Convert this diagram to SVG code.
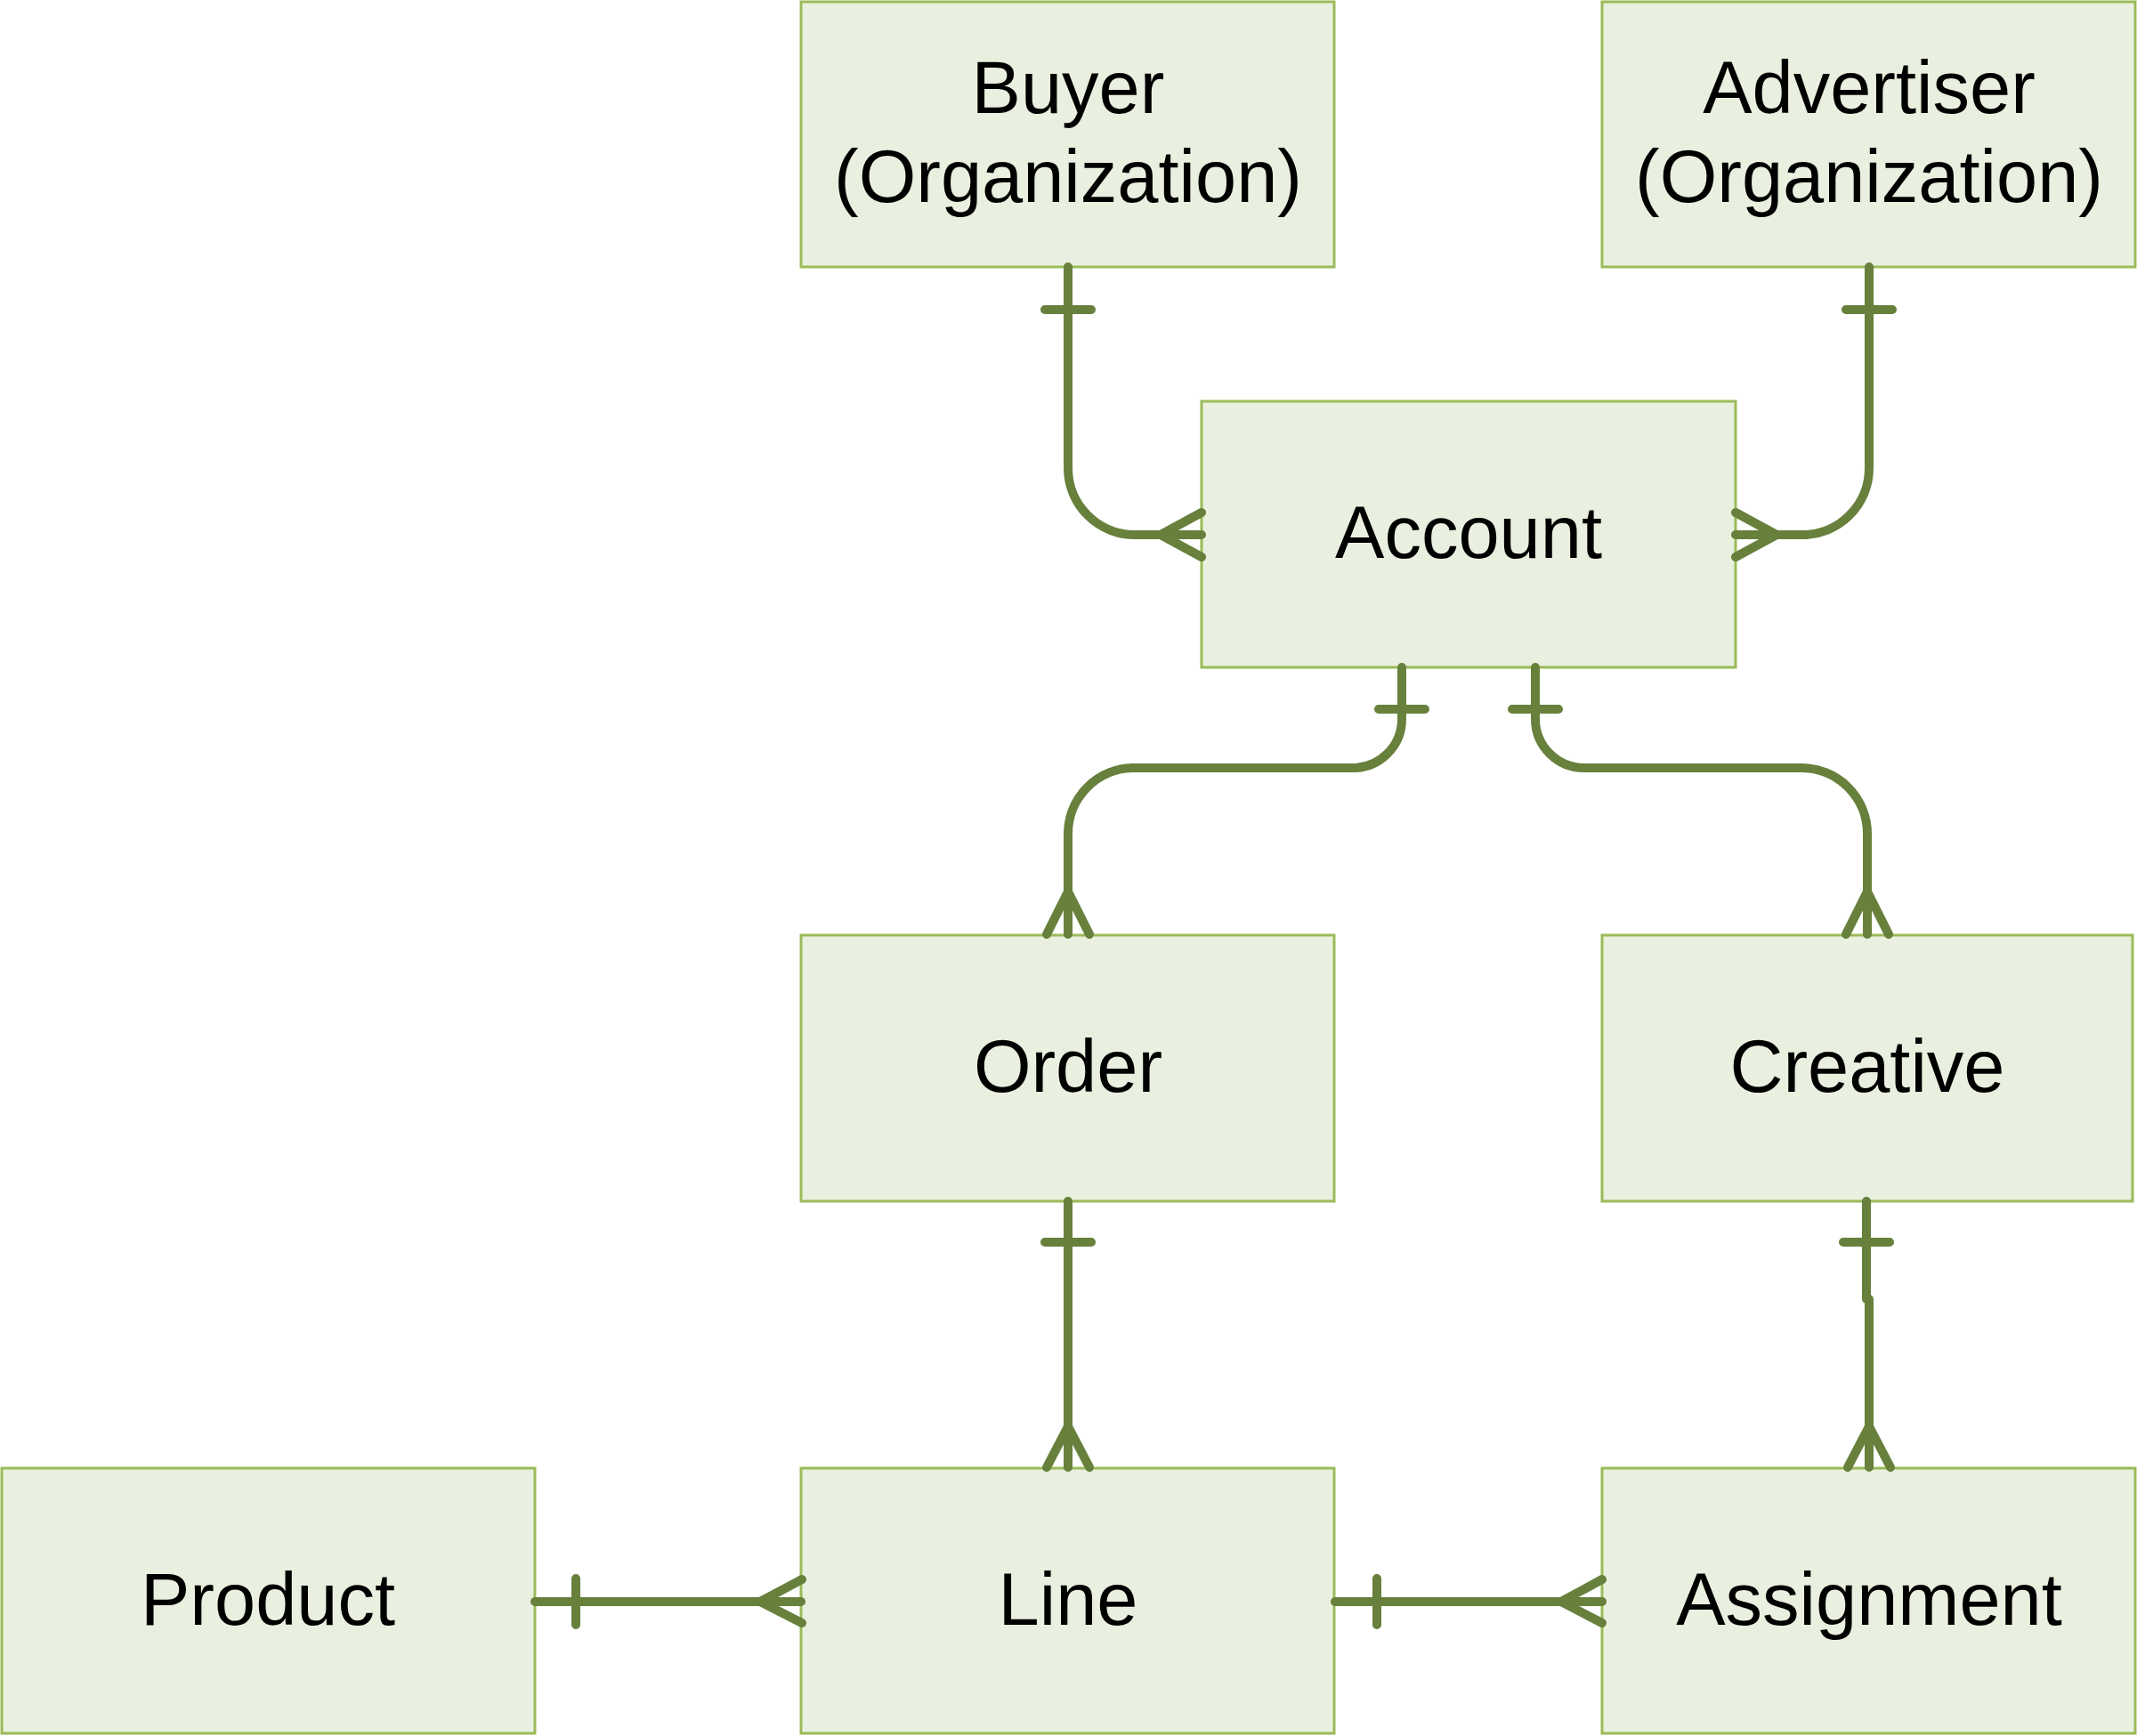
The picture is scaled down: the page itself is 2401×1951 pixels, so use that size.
<svg xmlns="http://www.w3.org/2000/svg" width="2401" height="1951" viewBox="0 0 2401 1951">
<style>
.box{fill:#E9F0DF;stroke:#9BBB59;stroke-width:3}
.lbl{font-family:"Liberation Sans",Arial,sans-serif;font-size:83px;fill:#000;text-anchor:middle}
.con{fill:none;stroke:#67803C;stroke-width:10;stroke-linecap:round;stroke-linejoin:round}
</style>
<rect x="0" y="0" width="2401" height="1951" fill="#fff"/>
<g id="buyer"><rect class="box" x="900" y="2" width="599" height="298"/><text class="lbl" x="1200" y="127">Buyer</text><text class="lbl" x="1200" y="227">(Organization)</text></g>
<g id="advertiser"><rect class="box" x="1800" y="2" width="599" height="298"/><text class="lbl" x="2100" y="127">Advertiser</text><text class="lbl" x="2100" y="227">(Organization)</text></g>
<g id="account"><rect class="box" x="1350" y="451" width="600" height="299"/><text class="lbl" x="1650" y="627">Account</text></g>
<g id="order"><rect class="box" x="900" y="1051" width="599" height="299"/><text class="lbl" x="1200" y="1227">Order</text></g>
<g id="creative"><rect class="box" x="1800" y="1051" width="596" height="299"/><text class="lbl" x="2098" y="1227">Creative</text></g>
<g id="product"><rect class="box" x="2" y="1650" width="599" height="298"/><text class="lbl" x="301" y="1826">Product</text></g>
<g id="line"><rect class="box" x="900" y="1650" width="599" height="298"/><text class="lbl" x="1200" y="1826">Line</text></g>
<g id="assignment"><rect class="box" x="1800" y="1650" width="599" height="298"/><text class="lbl" x="2100" y="1826">Assignment</text></g>
<g id="connectors">
<path class="con" d="M1200 300 V526 A75 75 0 0 0 1275 601 H1350 M1174 348 H1226 M1350 576 L1304 601 L1350 626"/>
<path class="con" d="M2100 300 V526 A75 75 0 0 1 2025 601 H1950 M2074 348 H2126 M1950 576 L1996 601 L1950 626"/>
<path class="con" d="M1575 750 V808 A55 55 0 0 1 1520 863 H1274 A74 74 0 0 0 1200 937 V1050 M1549 797 H1601 M1176 1050 L1200 1002 L1224 1050"/>
<path class="con" d="M1725 750 V808 A55 55 0 0 0 1780 863 H2024 A74 74 0 0 1 2098 937 V1050 M1699 797 H1751 M2074 1050 L2098 1002 L2122 1050"/>
<path class="con" d="M1200 1350 V1649 M1174 1396 H1226 M1176 1649 L1200 1603 L1224 1649"/>
<path class="con" d="M2097 1350 V1460 M2100 1460 V1649 M2071 1396 H2123 M2076 1649 L2100 1603 L2124 1649"/>
<path class="con" d="M601 1800 H900 M647 1774 V1826 M901 1775 L854 1800 L901 1824"/>
<path class="con" d="M1500 1800 H1800 M1547 1774 V1826 M1800 1775 L1754 1800 L1800 1824"/>
</g>
</svg>
